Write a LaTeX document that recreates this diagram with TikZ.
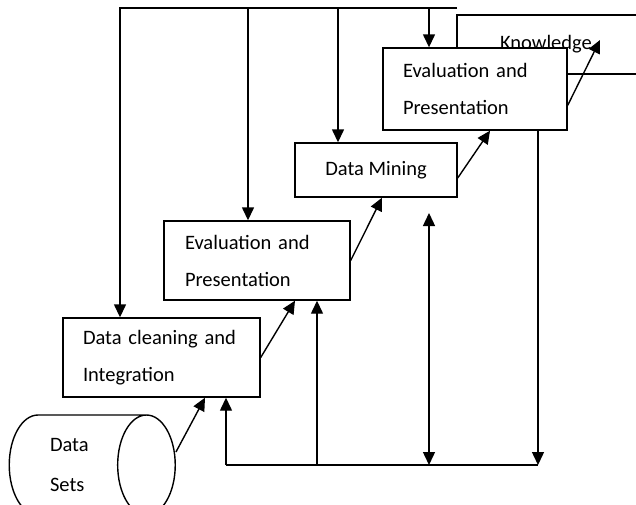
\documentclass[tikz,border=0pt]{standalone}
\usepackage{fontspec}
\setmainfont{Carlito}
\usepackage{tikz}
\usetikzlibrary{shapes.geometric, arrows.meta, positioning}
\tikzstyle{stage} = [rectangle, draw=black, line width=1.4pt, fill=white, align=left, font=\fontsize{20.5}{37}\selectfont, inner ysep=0pt]
\tikzstyle{store} = [cylinder, draw=black, line width=1.4pt, fill=white, aspect=1.08, align=left, font=\fontsize{20.5}{40}\selectfont, inner sep=0pt]
\tikzstyle{flow} = [line width=1.4pt, -{Triangle[length=13pt, width=12pt]}]
\tikzstyle{feed} = [line width=1.4pt]

\begin{document}
\begin{tikzpicture}[x=1pt, y=-1pt]

\useasboundingbox (0,0) rectangle (636,504);
\clip (0,0) rectangle (636,504);

\node (know) [stage, text width=150pt, inner xsep=43pt, minimum height=59] at (575,44.5) {Knowledge};
\node (eval2) [stage, text width=144pt, inner xsep=20pt, minimum height=82] at (475,89) {Evaluation and\\Presentation};
\node (mining) [stage, align=center, minimum width=162, minimum height=54] at (376,170) {Data Mining};
\node (eval1) [stage, text width=144pt, inner xsep=21pt, minimum height=79] at (257,260.5) {Evaluation and\\Presentation};
\node (clean) [stage, text width=157pt, inner xsep=20pt, minimum height=79] at (161.5,357.5) {Data cleaning and\\Integration};
\node (data) [store, text width=55pt, minimum width=100, minimum height=166] at (77.5,465) {Data\\Sets};

\coordinate (kntip) at (600,40);
% feedback from the top
\coordinate (f0) at (120,8);
\coordinate (f1) at (248,8);
\coordinate (f2) at (338,8);
\coordinate (f3) at (429,8);
\coordinate (f4) at (457,8);
% return line at the bottom
\coordinate (b0) at (226,465);
\coordinate (b1) at (317,465);
\coordinate (b2) at (429,465);
\coordinate (b3) at (538,465);
\coordinate (m0) at (429,213);

\draw[flow] ([yshift=13]data.east) -- ([xshift=43.5]clean.south);
\draw[flow] (clean.east) -- ([xshift=38]eval1.south);
\draw[flow] (eval1.east) -- ([xshift=6]mining.south);
\draw[flow] ([yshift=-8]mining.east) -- ([xshift=15]eval2.south);
\draw[flow] (eval2.-10) -- (kntip);

\draw[flow] (f4) -- (f0) -- (clean.north -| f0);
\draw[flow] (f1) -- (eval1.north -| f1);
\draw[flow] (f2) -- (mining.north -| f2);
\draw[flow] (f3) -- (eval2.north -| f3);

\draw[feed] (b0) -- (b3);
\draw[flow] (eval2.south -| b3) -- (b3);
\draw[flow] (b0) -- (clean.south -| b0);
\draw[flow] (b1) -- (eval1.south -| b1);
\draw[flow, {Triangle[length=13pt, width=12pt]}-{Triangle[length=13pt, width=12pt]}] (m0) -- (b2);

\end{tikzpicture}
\end{document}
